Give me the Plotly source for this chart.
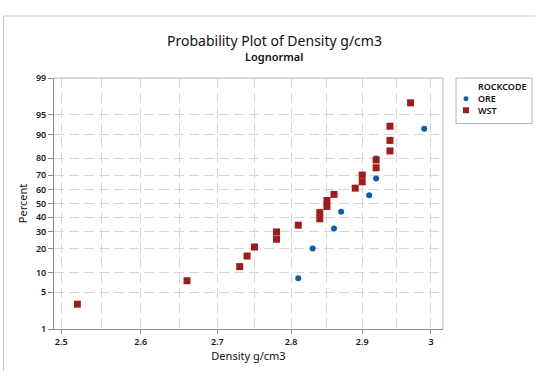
from statistics import NormalDist

import plotly.graph_objects as go

# Density measurements (g/cm3) and their plotting positions (percent) per rock code
ore_density = [2.81, 2.83, 2.86, 2.87, 2.91, 2.92, 2.92, 2.99]
ore_percent = [8.3, 20.2, 32.1, 44.0, 56.0, 67.9, 79.8, 91.7]

wst_density = [2.52, 2.66, 2.73, 2.74, 2.75, 2.78, 2.78, 2.81, 2.84, 2.84, 2.85,
               2.85, 2.86, 2.89, 2.90, 2.90, 2.92, 2.92, 2.94, 2.94, 2.94, 2.97]
wst_percent = [3.1, 7.6, 12.1, 16.5, 21.0, 25.4, 29.9, 34.4, 38.8, 43.3, 47.8,
               52.2, 56.7, 61.2, 65.6, 70.1, 74.6, 79.0, 83.5, 87.9, 92.4, 96.9]

percent_ticks = [1, 5, 10, 20, 30, 40, 50, 60, 70, 80, 90, 95, 99]
density_ticks = [2.5, 2.6, 2.7, 2.8, 2.9, 3.0]
density_tick_text = ["2.5", "2.6", "2.7", "2.8", "2.9", "3"]
density_grid = [2.5, 2.55, 2.6, 2.65, 2.7, 2.75, 2.8, 2.85, 2.9, 2.95, 3.0]

W, H = 535, 371
L, R, T, B = 54, 443, 78, 331
FONT = "Noto Sans"
nd = NormalDist()


def prob(p):
    """Percent -> standard normal quantile (probability scale)."""
    return nd.inv_cdf(p / 100.0)


def px(x):
    return (x - L) / (R - L)


def py(y):
    return (B - y) / (B - T)


fig = go.Figure()
fig.add_trace(go.Scatter(
    x=ore_density, y=[prob(p) for p in ore_percent], mode="markers", name="ORE",
    marker=dict(symbol="circle", size=6, color="#0b5cad"), showlegend=False))
fig.add_trace(go.Scatter(
    x=wst_density, y=[prob(p) for p in wst_percent], mode="markers", name="WST",
    marker=dict(symbol="square", size=7, color="#a01c1c"), showlegend=False))

tick_font = dict(family=FONT, size=9, color="#1a1a1a", weight=600)
grid = dict(gridcolor="#d6d6d6", griddash="10px,5px", gridwidth=1)
fig.update_xaxes(
    type="log", range=[0.3964, 0.4797],
    tickmode="array", tickvals=density_ticks, ticktext=density_tick_text,
    ticks="outside", ticklen=4, tickcolor="#8c8c8c",
    tickfont=tick_font,
    showline=True, linecolor="#8c8c8c", linewidth=1, mirror=False,
    showgrid=False, zeroline=False,
    minor=dict(tickvals=density_grid, showgrid=True, ticks="", **grid),
    title=dict(text="Density g/cm3", font=dict(family=FONT, size=11, color="#111"), standoff=4),
)
fig.update_yaxes(
    range=[prob(1), prob(99)],
    tickmode="array", tickvals=[prob(p) for p in percent_ticks],
    ticktext=[str(p) for p in percent_ticks],
    ticks="outside", ticklen=5, tickcolor="#8c8c8c",
    tickfont=tick_font,
    showline=True, linecolor="#8c8c8c", linewidth=1, mirror=False,
    showgrid=True, zeroline=False, **grid,
    title=dict(text="Percent", font=dict(family=FONT, size=11, color="#111"), standoff=6),
)

shapes = [
    # plot frame top and right
    dict(type="line", xref="paper", yref="paper", x0=0, x1=1, y0=1, y1=1,
         line=dict(color="#b4b4b4", width=1)),
    dict(type="line", xref="paper", yref="paper", x0=1, x1=1, y0=0, y1=1,
         line=dict(color="#b4b4b4", width=1)),
    # outer graph frame
    dict(type="line", xref="paper", yref="paper", x0=px(3.5), x1=px(W + 5), y0=py(15.5), y1=py(15.5),
         line=dict(color="#c8c8c8", width=1)),
    dict(type="line", xref="paper", yref="paper", x0=px(3.5), x1=px(3.5), y0=py(15.5), y1=py(H + 5),
         line=dict(color="#c8c8c8", width=1)),
    # legend box
    dict(type="rect", xref="paper", yref="paper", x0=px(456), x1=px(532), y0=py(78), y1=py(124),
         line=dict(color="#b4b4b4", width=1), fillcolor="white"),
    # legend symbols
    dict(type="circle", xref="paper", yref="paper", x0=px(463.5), x1=px(468.5), y0=py(101.5), y1=py(96.5),
         line=dict(width=0), fillcolor="#0b5cad"),
    dict(type="rect", xref="paper", yref="paper", x0=px(463), x1=px(469), y0=py(113.5), y1=py(107.5),
         line=dict(width=0), fillcolor="#a01c1c"),
]

legend_font = dict(family=FONT, size=9, color="#111", weight=600)
annotations = [
    dict(text="Probability Plot of Density g/cm3", x=px(274), y=py(40), xref="paper", yref="paper",
         showarrow=False, xanchor="center", yanchor="middle",
         font=dict(family=FONT, size=14, color="#111")),
    dict(text="Lognormal", x=px(274), y=py(56.5), xref="paper", yref="paper",
         showarrow=False, xanchor="center", yanchor="middle",
         font=dict(family=FONT, size=11, color="#111", weight=600)),
    dict(text="ROCKCODE", x=px(476), y=py(87), xref="paper", yref="paper",
         showarrow=False, xanchor="left", yanchor="middle", font=legend_font),
    dict(text="ORE", x=px(476), y=py(99), xref="paper", yref="paper",
         showarrow=False, xanchor="left", yanchor="middle", font=legend_font),
    dict(text="WST", x=px(476), y=py(110.5), xref="paper", yref="paper",
         showarrow=False, xanchor="left", yanchor="middle", font=legend_font),
]

fig.update_layout(
    width=W, height=H,
    margin=dict(l=L, r=W - R, t=T, b=H - B, pad=0),
    paper_bgcolor="white", plot_bgcolor="white",
    shapes=shapes, annotations=annotations,
    showlegend=False,
)

fig.write_html("out.html")
